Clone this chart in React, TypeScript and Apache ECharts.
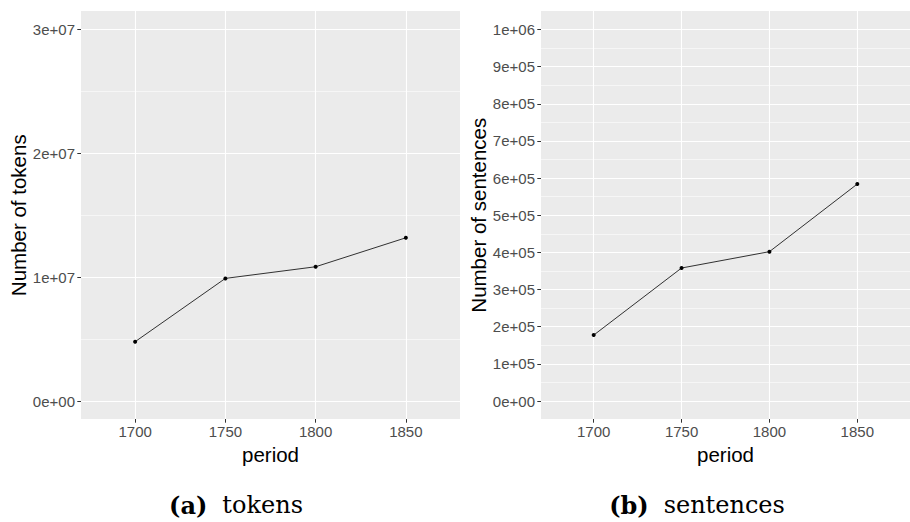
import React, { useEffect, useRef } from "react";
import * as echarts from "echarts";

const periods = [1700, 1750, 1800, 1850];
const tokens = [4790000, 9900000, 10840000, 13180000];
const sentences = [177400, 358000, 402000, 584000];
const tokenTicks = [0, 10000000, 20000000, 30000000];
const sentenceTicks = [0, 100000, 200000, 300000, 400000, 500000, 600000, 700000, 800000, 900000, 1000000];

const SANS = "Liberation Sans, Arial, sans-serif";

function sci(v: number): string {
  if (v === 0) return "0e+00";
  const s = v.toExponential();
  const [m, e] = s.split("e");
  const sign = e[0] === "-" ? "-" : "+";
  const digits = e.replace(/[+-]/, "").padStart(2, "0");
  return `${m}e${sign}${digits}`;
}

function panelAxes(gridBg: number, gridFg: number, ticks: number[], yName: string) {
  const xBg = {
    gridIndex: gridBg,
    type: "value",
    min: 1670,
    max: 1880,
    axisLine: { show: false },
    axisTick: {
      show: true,
      length: 3.7,
      lineStyle: { color: "#333333", width: 1 },
      customValues: periods,
    },
    axisLabel: {
      customValues: periods,
      color: "#4d4d4d",
      fontSize: 15,
      fontFamily: SANS,
      margin: 5,
      formatter: (v: number) => String(v),
    },
    splitLine: {
      show: true,
      lineStyle: { color: "#ffffff", width: 1.1 },
    },
    name: "period",
    nameLocation: "middle",
    nameGap: 22,
    nameTextStyle: { color: "#000000", fontSize: 20.5, fontFamily: SANS },
  };
  const xFg = {
    gridIndex: gridFg,
    type: "value",
    min: 1670,
    max: 1880,
    show: false,
  };
  const step = ticks[1] - ticks[0];
  const yBg = {
    gridIndex: gridBg,
    type: "value",
    show: false,
  };
  const yFg = {
    gridIndex: gridFg,
    type: "value",
    min: ticks[0],
    max: ticks[ticks.length - 1],
    interval: step,
    axisLine: { show: false },
    axisTick: { show: true, length: 3.7, lineStyle: { color: "#333333", width: 1 } },
    minorTick: { show: false, splitNumber: 2 },
    minorSplitLine: { show: true, lineStyle: { color: "#ffffff", width: 0.55 } },
    splitLine: { show: true, lineStyle: { color: "#ffffff", width: 1.1 } },
    axisLabel: {
      color: "#4d4d4d",
      fontSize: 15,
      fontFamily: SANS,
      margin: 6,
      formatter: (v: number) => sci(v),
    },
    name: yName,
    nameLocation: "middle",
    nameGap: 50,
    nameTextStyle: { color: "#000000", fontSize: 20.5, fontFamily: SANS },
  };
  return { xBg, xFg, yBg, yFg };
}

export default function App() {
  const ref = useRef<HTMLDivElement>(null);
  useEffect(() => {
    if (!ref.current) return;
    const chart = echarts.init(ref.current, null, { renderer: "svg" });
    const left = panelAxes(0, 1, tokenTicks, "Number of tokens");
    const right = panelAxes(2, 3, sentenceTicks, "Number of sentences");
    const bg = { show: true, backgroundColor: "#ebebeb", borderWidth: 0 };
    const option: any = {
      animation: false,
      backgroundColor: "#ffffff",
      grid: [
        { left: 81, top: 11, width: 379, height: 408, ...bg },
        { left: 81, top: 29.5, width: 379, height: 371.5, show: false },
        { left: 541, top: 11, width: 369, height: 408, ...bg },
        { left: 541, top: 29.5, width: 369, height: 371.5, show: false },
      ],
      xAxis: [left.xBg, left.xFg, right.xBg, right.xFg],
      yAxis: [left.yBg, left.yFg, right.yBg, right.yFg],
      series: [
        {
          type: "line",
          xAxisIndex: 1,
          yAxisIndex: 1,
          data: periods.map((p, i) => [p, tokens[i]]),
          symbol: "circle",
          symbolSize: 4,
          itemStyle: { color: "#000000" },
          lineStyle: { color: "#000000", width: 0.8 },
        },
        {
          type: "line",
          xAxisIndex: 3,
          yAxisIndex: 3,
          data: periods.map((p, i) => [p, sentences[i]]),
          symbol: "circle",
          symbolSize: 4,
          itemStyle: { color: "#000000" },
          lineStyle: { color: "#000000", width: 0.8 },
        },
      ],
      graphic: [
        {
          type: "text",
          x: 236,
          y: 505,
          style: {
            text: "{b|(a)}{s| }tokens",
            align: "center",
            verticalAlign: "middle",
            fill: "#000000",
            fontFamily: "DejaVu Serif",
            fontSize: 24,
            rich: {
              b: { fontFamily: "DejaVu Serif", fontSize: 24, fontWeight: "bold", fill: "#000000" },
              s: { fontFamily: "DejaVu Serif", fontSize: 24, width: 15 },
            },
          },
        },
        {
          type: "text",
          x: 697,
          y: 505,
          style: {
            text: "{b|(b)}{s| }sentences",
            align: "center",
            verticalAlign: "middle",
            fill: "#000000",
            fontFamily: "DejaVu Serif",
            fontSize: 24,
            rich: {
              b: { fontFamily: "DejaVu Serif", fontSize: 24, fontWeight: "bold", fill: "#000000" },
              s: { fontFamily: "DejaVu Serif", fontSize: 24, width: 15 },
            },
          },
        },
      ],
    };
    chart.setOption(option);
    return () => chart.dispose();
  }, []);
  return (
    <div
      ref={ref}
      style={{ position: "absolute", left: 0, top: 0, width: 910, height: 522, background: "#fff" }}
    />
  );
}
